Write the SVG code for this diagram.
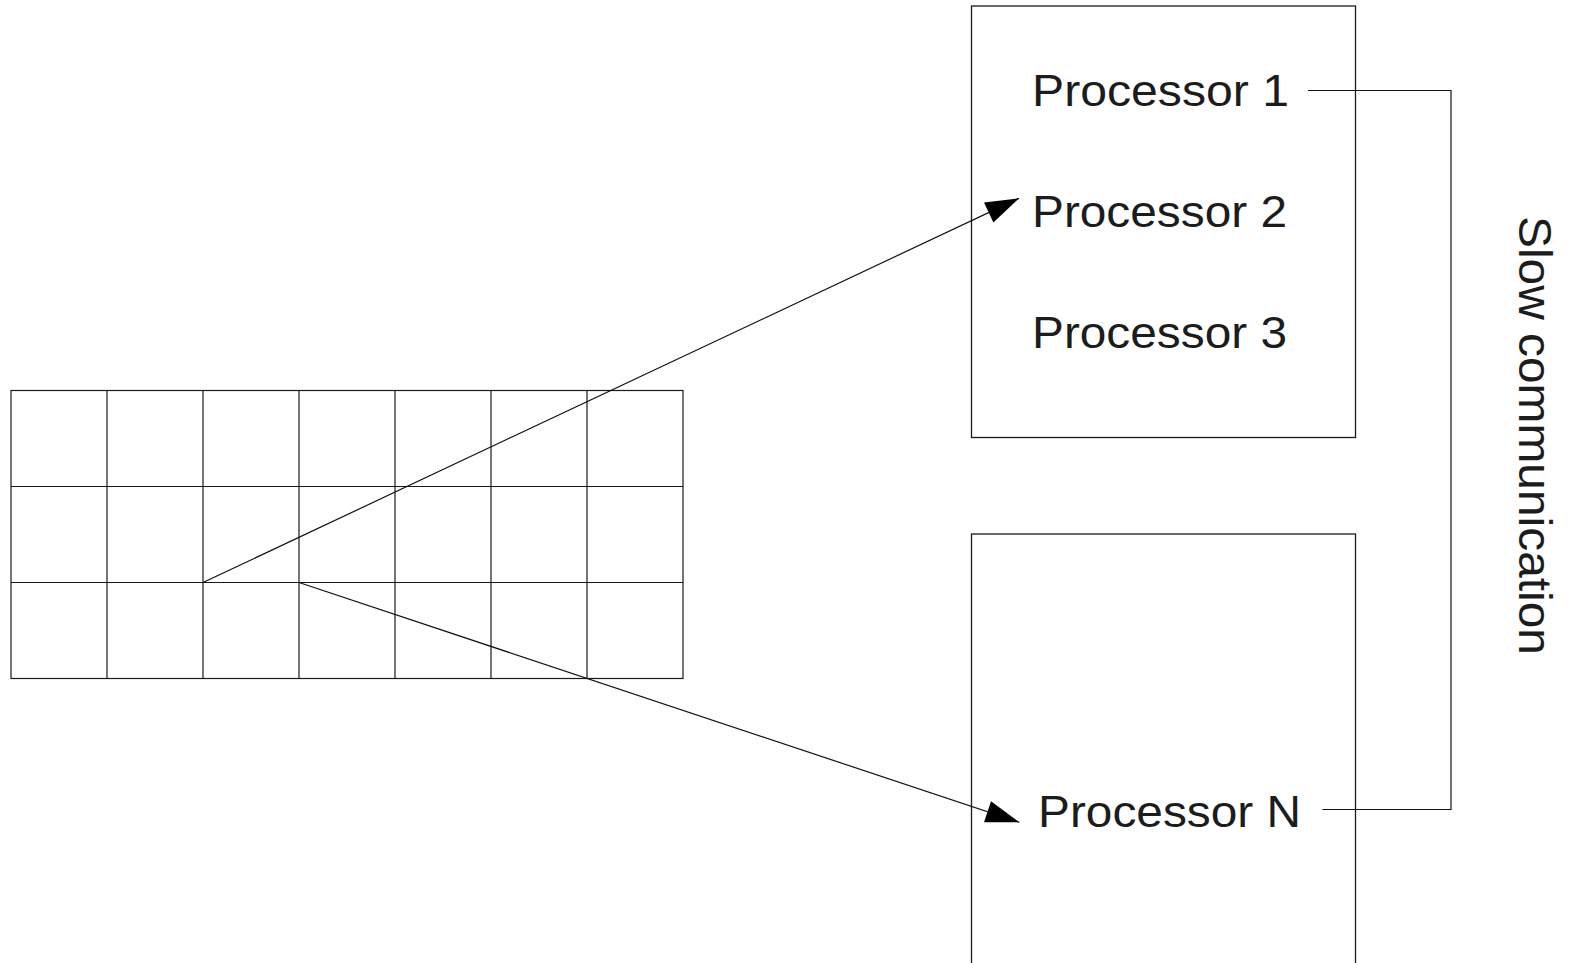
<svg xmlns="http://www.w3.org/2000/svg" width="1571" height="963" viewBox="0 0 1571 963">
<style>
.box{fill:#fff;stroke:#1a1a1a;stroke-width:1.3}
.grid{fill:none;stroke:#1a1a1a;stroke-width:1.2}
.conn{fill:none;stroke:#111;stroke-width:1.2}
.lbl{font-family:"Liberation Sans",Arial,sans-serif;font-size:45px;fill:#1c1c1c}
</style>
<defs>
<marker id="arr" markerUnits="userSpaceOnUse" markerWidth="40" markerHeight="30" viewBox="-36 -15 40 30" refX="0" refY="0" orient="auto">
<path d="M0,0 L-33.5,-11 L-33.5,11 Z" fill="#000"/>
</marker>
</defs>
<rect width="1571" height="963" fill="#fff"/>
<g id="grid">
<rect class="grid" x="11" y="390.5" width="672" height="288"/>
<path class="grid" d="M107,390.5V678.5M203,390.5V678.5M299,390.5V678.5M395,390.5V678.5M491,390.5V678.5M587,390.5V678.5M11,486.5H683M11,582.5H683"/>
</g>
<g id="node-group1">
<rect class="box" x="971.5" y="6" width="384" height="431.5"/>
<text class="lbl" x="1032" y="106" textLength="257" lengthAdjust="spacingAndGlyphs">Processor 1</text>
<text class="lbl" x="1032" y="227" textLength="255" lengthAdjust="spacingAndGlyphs">Processor 2</text>
<text class="lbl" x="1032" y="348" textLength="255" lengthAdjust="spacingAndGlyphs">Processor 3</text>
</g>
<g id="node-group2">
<rect class="box" x="971.5" y="534" width="384" height="440"/>
<text class="lbl" x="1038" y="827" textLength="263" lengthAdjust="spacingAndGlyphs">Processor N</text>
</g>
<g id="label-slow">
<text class="lbl" style="font-size:46.5px" transform="translate(1518.5,216) rotate(90)" x="0" y="0" textLength="439" lengthAdjust="spacingAndGlyphs">Slow communication</text>
</g>
<g id="connectors">
<line class="conn" x1="203" y1="582.5" x2="1019" y2="198.3" marker-end="url(#arr)"/>
<line class="conn" x1="299" y1="582.5" x2="1019.3" y2="822.3" marker-end="url(#arr)"/>
<path class="conn" d="M1308,90.5H1451V809.5H1322.5"/>
</g>
</svg>
